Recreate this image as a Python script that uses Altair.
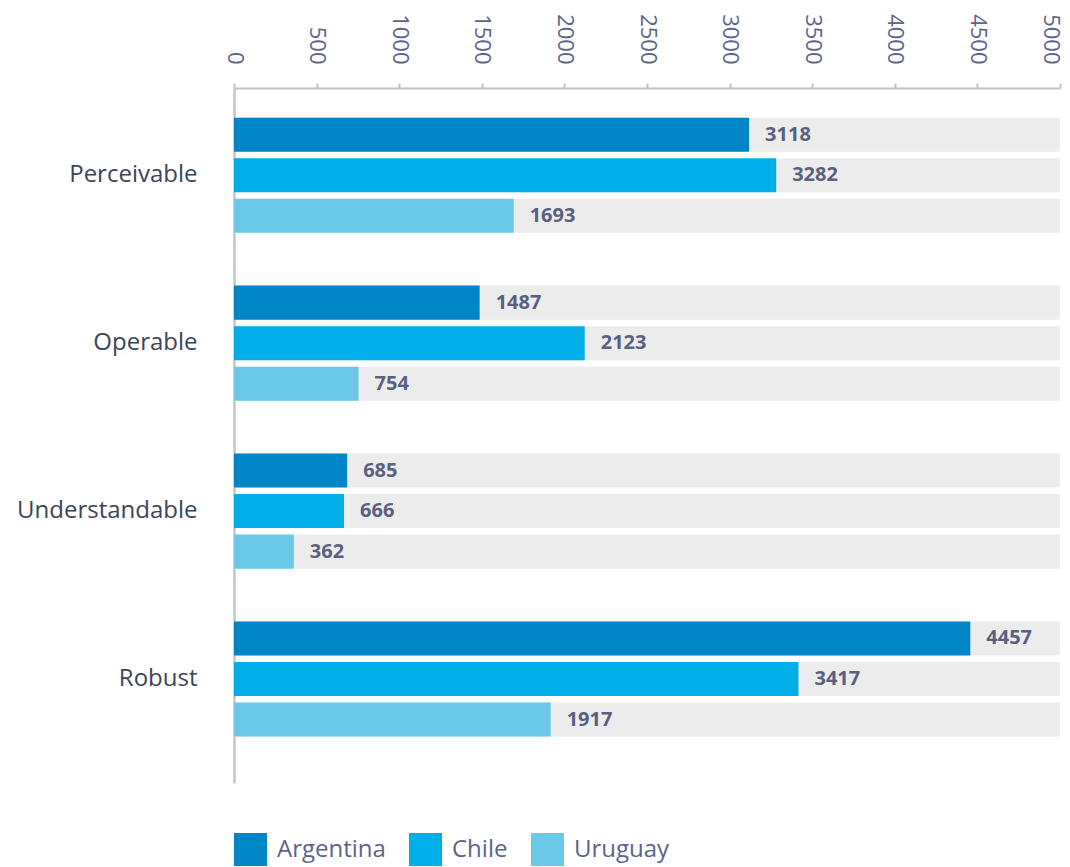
import altair as alt
import pandas as pd

categories = ["Perceivable", "Operable", "Understandable", "Robust"]
countries = ["Argentina", "Chile", "Uruguay"]
argentina = [3118, 1487, 685, 4457]
chile = [3282, 2123, 666, 3417]
uruguay = [1693, 754, 362, 1917]
x_max = 5000
tick_values = [0, 500, 1000, 1500, 2000, 2500, 3000, 3500, 4000, 4500, 5000]
colors = ["#0085c7", "#00aee8", "#6bc8e8"]

rows = []
for i, c in enumerate(categories):
    for country, vals in zip(countries, [argentina, chile, uruguay]):
        rows.append({"category": c, "country": country, "value": vals[i], "full": x_max})
df = pd.DataFrame(rows)

FONT = "Open Sans"

y_enc = alt.Y(
    "category:N",
    sort=categories,
    scale=alt.Scale(paddingInner=0.314, paddingOuter=0.2266, align=0.39),
    axis=alt.Axis(
        title=None, ticks=False, domain=True, domainColor="#c4c4c4", domainWidth=2.5,
        labelFont=FONT, labelFontSize=24, labelColor="#3c4459", labelPadding=37,
        labelLimit=300,
    ),
)
yoff = alt.YOffset("country:N", sort=countries, scale=alt.Scale(paddingInner=0.16, paddingOuter=0))

x_scale = alt.Scale(domain=[0, x_max], nice=False)

bg = alt.Chart(df).mark_bar(color="#ececec", cornerRadius=0).encode(
    y=y_enc,
    yOffset=yoff,
    x=alt.X(
        "full:Q",
        scale=x_scale,
        axis=alt.Axis(
            orient="top", title=None, values=tick_values, format="d",
            labelAngle=90, labelAlign="right", labelBaseline="middle",
            labelFont=FONT, labelFontSize=22, labelColor="#5c6487",
            labelPadding=19, tickSize=5, tickColor="#c4c4c4", tickWidth=2,
            domainColor="#c4c4c4", domainWidth=2, grid=False, labelFlush=False,
            labelOverlap=False,
            labelOffset={"condition": {"test": "datum.value >= 5000", "value": -10}, "value": 0},
        ),
    ),
)

bars = alt.Chart(df).mark_bar().encode(
    y=alt.Y("category:N", sort=categories),
    yOffset=yoff,
    x=alt.X("value:Q", scale=x_scale),
    color=alt.Color(
        "country:N", sort=countries,
        scale=alt.Scale(domain=countries, range=colors),
        legend=alt.Legend(
            title=None, orient="none", legendX=0, legendY=745, direction="horizontal",
            symbolType="square", symbolSize=1089, symbolStrokeWidth=0,
            labelFont=FONT, labelFontSize=24, labelColor="#5c6487",
            labelOffset=10, columnPadding=23,
        ),
    ),
)

labels = alt.Chart(df).mark_text(
    align="left", baseline="middle", dx=16, font=FONT, fontSize=20,
    fontWeight="bold", color="#596080",
).encode(
    y=alt.Y("category:N", sort=categories),
    yOffset=yoff,
    x=alt.X("value:Q", scale=x_scale),
    text=alt.Text("value:Q"),
)

chart = alt.layer(bg, bars, labels).properties(
    width=826, height=695,
    autosize=alt.AutoSizeParams(type="none"),
    padding={"left": 226, "top": 80, "right": 2, "bottom": 84},
).configure(background="white").configure_view(stroke=None)

chart.save("out.html", embed_options={"renderer": "svg", "actions": False})
